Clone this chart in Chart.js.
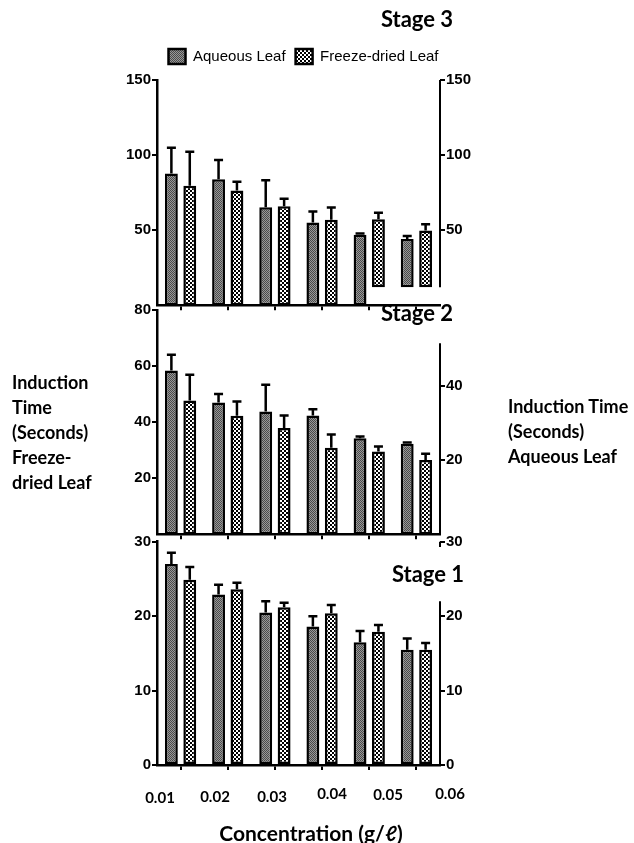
<!DOCTYPE html>
<html>
<head>
<meta charset="utf-8">
<script src="https://cdn.jsdelivr.net/npm/chart.js@4.4.1/dist/chart.umd.min.js"></script>
<style>
  body { margin: 0; background: #fff; }
  #page { position: relative; width: 634px; height: 843px; overflow: hidden; font-family: Lato, "Open Sans", sans-serif; color: #000; }
  .panel { position: absolute; left: 0; width: 634px; }
  .txt { position: absolute; font-weight: bold; white-space: nowrap; }
  .stage { font-size: 22px; transform: translate(-50%, -50%); }
  .side { font-size: 18px; line-height: 25px; }
  .xl { font-size: 15px; transform: translate(-50%, -50%); }
</style>
</head>
<body>
<div id="page">
  <div class="panel" style="top:0;height:320px"><canvas id="stage3"></canvas></div>
  <div class="panel" style="top:290px;height:260px"><canvas id="stage2"></canvas></div>
  <div class="panel" style="top:520px;height:323px"><canvas id="stage1"></canvas></div>

  <div class="txt stage" style="left:417px;top:18px">Stage 3</div>
  <div class="txt stage" style="left:417px;top:312px">Stage 2</div>
  <div class="txt stage" style="left:428px;top:573px">Stage 1</div>

  <div class="txt side" style="left:12px;top:370px">Induction<br>Time<br>(Seconds)<br>Freeze-<br>dried Leaf</div>
  <div class="txt side" style="left:508px;top:394px">Induction Time<br>(Seconds)<br>Aqueous Leaf</div>

  <div id="xlabels"></div>
  <div class="txt" style="left:311px;top:832px;font-size:21px;transform:translate(-50%,-50%)">Concentration (g/ℓ)</div>
</div>

<script>
const categories = ["0.01", "0.02", "0.03", "0.04", "0.05", "0.06"]
const concLabels = ["0.01", "0.02", "0.03", "0.04", "0.05", "0.06"]

// Stage 3
const stage3Aq = [87.8, 84.0, 65.3, 55.1, 46.9, 44.2]
const stage3AqSd = [17.1, 12.7, 18.0, 7.3, 0.9, 2.0]
const stage3AqBase = [0, 0, 0, 0, 0, 12]
const stage3Fd = [79.6, 76.4, 66.0, 56.9, 57.3, 49.8]
const stage3FdSd = [22.6, 5.8, 4.9, 8.2, 4.3, 4.2]
const stage3FdBase = [0, 0, 0, 0, 12, 12]
const stage3LeftTicks = [50, 100, 150]
const stage3RightTicks = [50, 100, 150]

// Stage 2
const stage2Aq = [58.4, 47.0, 43.8, 42.4, 34.3, 32.3]
const stage2AqSd = [5.6, 3.0, 9.5, 2.2, 0.6, 0.4]
const stage2Fd = [47.7, 42.3, 37.9, 30.9, 29.5, 26.5]
const stage2FdSd = [9.2, 5.1, 4.5, 4.7, 1.8, 2.2]
const stage2LeftTicks = [20, 40, 60, 80]
const stage2RightTicks = [20, 40]

// Stage 1
const stage1Aq = [27.0, 22.9, 20.5, 18.6, 16.5, 15.5]
const stage1AqSd = [1.5, 1.3, 1.5, 1.4, 1.5, 1.5]
const stage1Fd = [24.9, 23.6, 21.2, 20.4, 17.9, 15.5]
const stage1FdSd = [1.7, 0.9, 0.6, 1.1, 0.9, 0.9]
const stage1LeftTicks = [0, 10, 20, 30]
const stage1RightTicks = [0, 10, 20, 30]

// x label placement under the bottom panel (they do not sit on the ticks in the original)
const xLabelX = [160, 215, 272, 332, 388, 450]
const xLabelY = [797, 796, 796, 793, 794, 793]

Chart.defaults.font.family = "Liberation Sans"
Chart.defaults.color = "#000"

function makePattern(size, draw) {
  const c = document.createElement("canvas")
  c.width = c.height = size
  const g = c.getContext("2d")
  draw(g)
  return g.createPattern(c, "repeat")
}

const aqFill = makePattern(2, g => {
  g.fillStyle = "#989898"
  g.fillRect(0, 0, 2, 2)
  g.fillStyle = "#4a4a4a"
  g.fillRect(0, 0, 1, 1)
  g.fillRect(1, 1, 1, 1)
})
const fdFill = makePattern(4, g => {
  g.fillStyle = "#fff"
  g.fillRect(0, 0, 4, 4)
  g.fillStyle = "#000"
  g.fillRect(0, 0, 2, 2)
  g.fillRect(2, 2, 2, 2)
})

const errorBarPlugin = {
  id: "errorBars",
  afterDatasetsDraw(chart) {
    const ctx = chart.ctx
    const y = chart.scales.y
    ctx.save()
    ctx.strokeStyle = "#000"
    ctx.lineWidth = 2.5
    chart.data.datasets.forEach((ds, i) => {
      chart.getDatasetMeta(i).data.forEach((bar, j) => {
        const top = y.getPixelForValue(ds.means[j] + ds.sd[j])
        ctx.beginPath()
        ctx.moveTo(bar.x, bar.y)
        ctx.lineTo(bar.x, top)
        ctx.moveTo(bar.x - 4.5, top)
        ctx.lineTo(bar.x + 4.5, top)
        ctx.stroke()
      })
    })
    ctx.restore()
  }
}

const rightAxisPlugin = {
  id: "rightLine",
  afterDraw(chart, args, opts) {
    const s = chart.scales.y1
    const ctx = chart.ctx
    ctx.save()
    ctx.strokeStyle = "#000"
    ctx.lineWidth = 2
    opts.spans.forEach(([a, b]) => {
      ctx.beginPath()
      ctx.moveTo(s.left, s.getPixelForValue(a))
      ctx.lineTo(s.left, s.getPixelForValue(b))
      ctx.stroke()
    })
    ctx.restore()
  }
}

function axisY(o, right) {
  return {
    type: "linear",
    position: right ? "right" : "left",
    min: 0,
    max: right ? o.rightMax : o.leftMax,
    afterBuildTicks: s => { s.ticks = (right ? o.rightTicks : o.leftTicks).map(v => ({ value: v })) },
    afterFit: s => { s.width = right ? 167 : 157 },
    ticks: { padding: 1, font: { family: "'Liberation Sans Narrow', 'Liberation Sans'", size: 15, weight: "bold" }, color: "#000" },
    grid: { drawOnChartArea: false, drawTicks: true, tickLength: 5, color: "#000", lineWidth: 2 },
    border: { display: !right, color: "#000", width: 2.5 },
  }
}

function buildStage(id, o) {
  const aqData = o.aq.map((v, i) => (o.aqBase && o.aqBase[i] ? [o.aqBase[i], v] : v))
  const fdData = o.fd.map((v, i) => (o.fdBase && o.fdBase[i] ? [o.fdBase[i], v] : v))
  new Chart(document.getElementById(id), {
    type: "bar",
    data: {
      labels: categories,
      datasets: [
        { label: "Aqueous Leaf", data: aqData, means: o.aq, sd: o.aqSd, backgroundColor: aqFill, borderColor: "#000", borderWidth: 2.5, borderSkipped: false },
        { label: "Freeze-dried Leaf", data: fdData, means: o.fd, sd: o.fdSd, backgroundColor: fdFill, borderColor: "#000", borderWidth: 2.5, borderSkipped: false },
      ],
    },
    options: {
      responsive: true,
      maintainAspectRatio: false,
      animation: false,
      layout: { padding: { top: o.padTop, right: 27, left: 0, bottom: 0 } },
      datasets: { bar: { categoryPercentage: 0.78, barPercentage: 0.7 } },
      plugins: {
        legend: o.legend
          ? {
              display: true,
              position: "top",
              labels: { boxWidth: 17, boxHeight: 15, padding: 10, color: "#000", font: { size: 15 } },
            }
          : { display: false },
        subtitle: o.legend
          ? { display: true, text: "", weight: 100, padding: 0, font: { size: 6, lineHeight: 1 } }
          : { display: false },
        tooltip: { enabled: false },
        rightLine: { spans: o.rightSpans },
      },
      scales: {
        x: {
          type: "category",
          offset: true,
          afterFit: s => { s.height = o.xHeight },
          ticks: { display: false },
          grid: { offset: false, drawOnChartArea: false, drawTicks: true, tickLength: 5, color: "#000", lineWidth: 2 },
          border: { color: "#000", width: 2.5 },
        },
        y: axisY(o, false),
        y1: axisY(o, true),
      },
    },
    plugins: [errorBarPlugin, rightAxisPlugin],
  })
}

buildStage("stage3", {
  aq: stage3Aq, aqSd: stage3AqSd, aqBase: stage3AqBase,
  fd: stage3Fd, fdSd: stage3FdSd, fdBase: stage3FdBase,
  leftMax: 150, rightMax: 150,
  leftTicks: stage3LeftTicks, rightTicks: stage3RightTicks,
  rightSpans: [[12, 150]],
  legend: true, padTop: 39, xHeight: 14.7,
})

buildStage("stage2", {
  aq: stage2Aq, aqSd: stage2AqSd,
  fd: stage2Fd, fdSd: stage2FdSd,
  leftMax: 80, rightMax: 60.6,
  leftTicks: stage2LeftTicks, rightTicks: stage2RightTicks,
  rightSpans: [[0, 51.6]],
  legend: false, padTop: 20, xHeight: 15.7,
})

buildStage("stage1", {
  aq: stage1Aq, aqSd: stage1AqSd,
  fd: stage1Fd, fdSd: stage1FdSd,
  leftMax: 30, rightMax: 30,
  leftTicks: stage1LeftTicks, rightTicks: stage1RightTicks,
  rightSpans: [[0, 22], [29.3, 30]],
  legend: false, padTop: 21.7, xHeight: 78,
})

const xl = document.getElementById("xlabels")
concLabels.forEach((t, i) => {
  const d = document.createElement("div")
  d.className = "txt xl"
  d.style.left = xLabelX[i] + "px"
  d.style.top = xLabelY[i] + "px"
  d.textContent = t
  xl.appendChild(d)
})
</script>
</body>
</html>
